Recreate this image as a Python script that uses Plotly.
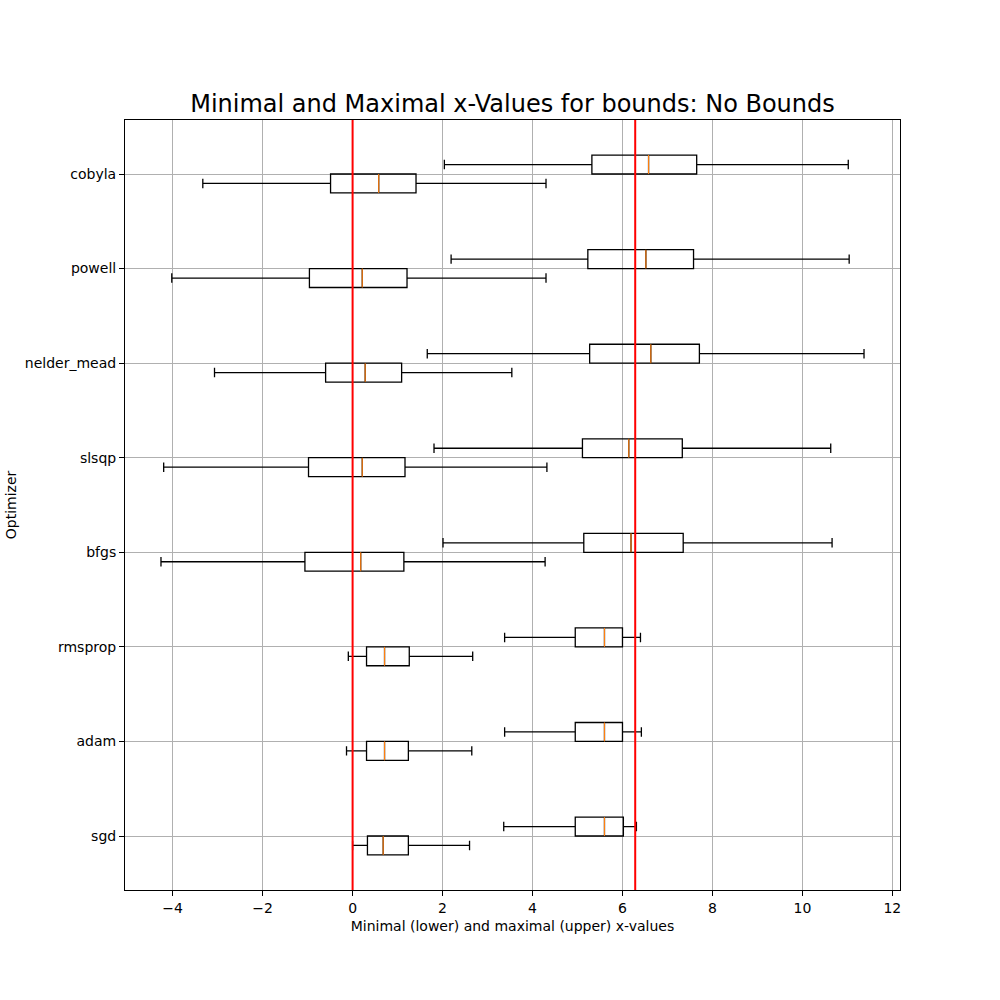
import numpy as np
import plotly.graph_objects as go

optimizers = ["sgd", "adam", "rmsprop", "bfgs", "slsqp", "nelder_mead", "powell", "cobyla"]
positions = [1, 2, 3, 4, 5, 6, 7, 8]

# Minimal x-values (lower boxes): whisker low, Q1, median, Q3, whisker high
min_lo  = [0.00, -0.135, -0.095, -4.26, -4.20, -3.07, -4.02, -3.33]
min_q1  = [0.33, 0.31, 0.31, -1.06, -0.98, -0.60, -0.96, -0.49]
min_med = [0.68, 0.71, 0.71, 0.18, 0.215, 0.28, 0.215, 0.58]
min_q3  = [1.24, 1.24, 1.26, 1.14, 1.165, 1.09, 1.21, 1.41]
min_hi  = [2.60, 2.65, 2.67, 4.28, 4.32, 3.54, 4.30, 4.30]

# Maximal x-values (upper boxes)
max_lo  = [3.36, 3.38, 3.38, 2.01, 1.81, 1.66, 2.19, 2.04]
max_q1  = [4.95, 4.95, 4.95, 5.14, 5.11, 5.27, 5.23, 5.32]
max_med = [5.60, 5.60, 5.60, 6.19, 6.14, 6.63, 6.52, 6.58]
max_q3  = [6.02, 6.00, 6.00, 7.35, 7.33, 7.71, 7.58, 7.65]
max_hi  = [6.31, 6.42, 6.40, 10.66, 10.63, 11.37, 11.04, 11.02]

ref_lines = [0.0, 2 * np.pi]
offset = 0.1
box_w = 0.2

fig = go.Figure()

def add_boxes(pos, lo, q1, med, q3, hi, name):
    fig.add_trace(go.Box(
        y=pos, q1=q1, median=med, q3=q3, lowerfence=lo, upperfence=hi,
        orientation="h", width=box_w, whiskerwidth=0.5,
        line=dict(color="black", width=1.3),
        fillcolor="rgba(0,0,0,0)", boxpoints=False, name=name,
        showlegend=False, hoverinfo="x+y",
    ))
    xs, ys = [], []
    for p, m in zip(pos, med):
        xs += [m, m, None]
        ys += [p - box_w / 2, p + box_w / 2, None]
    fig.add_trace(go.Scatter(x=xs, y=ys, mode="lines",
                             line=dict(color="#ff7f0e", width=1.1),
                             showlegend=False, hoverinfo="skip"))

pos_lower = [p - offset for p in positions]
pos_upper = [p + offset for p in positions]
add_boxes(pos_lower, min_lo, min_q1, min_med, min_q3, min_hi, "minimal")
add_boxes(pos_upper, max_lo, max_q1, max_med, max_q3, max_hi, "maximal")

for xv in ref_lines:
    fig.add_trace(go.Scatter(x=[xv, xv], y=[0.429, 8.571], mode="lines",
                             line=dict(color="red", width=2),
                             showlegend=False, hoverinfo="skip"))

font_family = "DejaVu Sans"
fig.update_layout(
    width=1000, height=1000,
    margin=dict(l=125, r=100, t=120, b=110),
    paper_bgcolor="white", plot_bgcolor="white",
    boxmode="overlay",
    font=dict(family=font_family, size=14, color="black"),
    title=dict(text="Minimal and Maximal x-Values for bounds: No Bounds",
               x=0.5125, xanchor="center", y=0.896, yanchor="middle",
               font=dict(family=font_family, size=24, color="black")),
    xaxis=dict(
        range=[-5.06, 12.17], tickvals=list(range(-4, 13, 2)),
        showgrid=True, gridcolor="#b0b0b0", gridwidth=1,
        zeroline=False, showline=True, mirror=True, linecolor="black", linewidth=1,
        ticks="outside", ticklen=5, tickcolor="black", automargin=False,
        title=dict(text="Minimal (lower) and maximal (upper) x-values",
                   font=dict(size=14), standoff=6),
    ),
    yaxis=dict(
        range=[0.429, 8.571], tickvals=positions, ticktext=optimizers,
        showgrid=True, gridcolor="#b0b0b0", gridwidth=1,
        zeroline=False, showline=True, mirror=True, linecolor="black", linewidth=1,
        ticks="outside", ticklen=5, tickcolor="black", automargin=False,
        title=dict(text="Optimizer", font=dict(size=14), standoff=4),
    ),
)

fig.write_html("out.html")
